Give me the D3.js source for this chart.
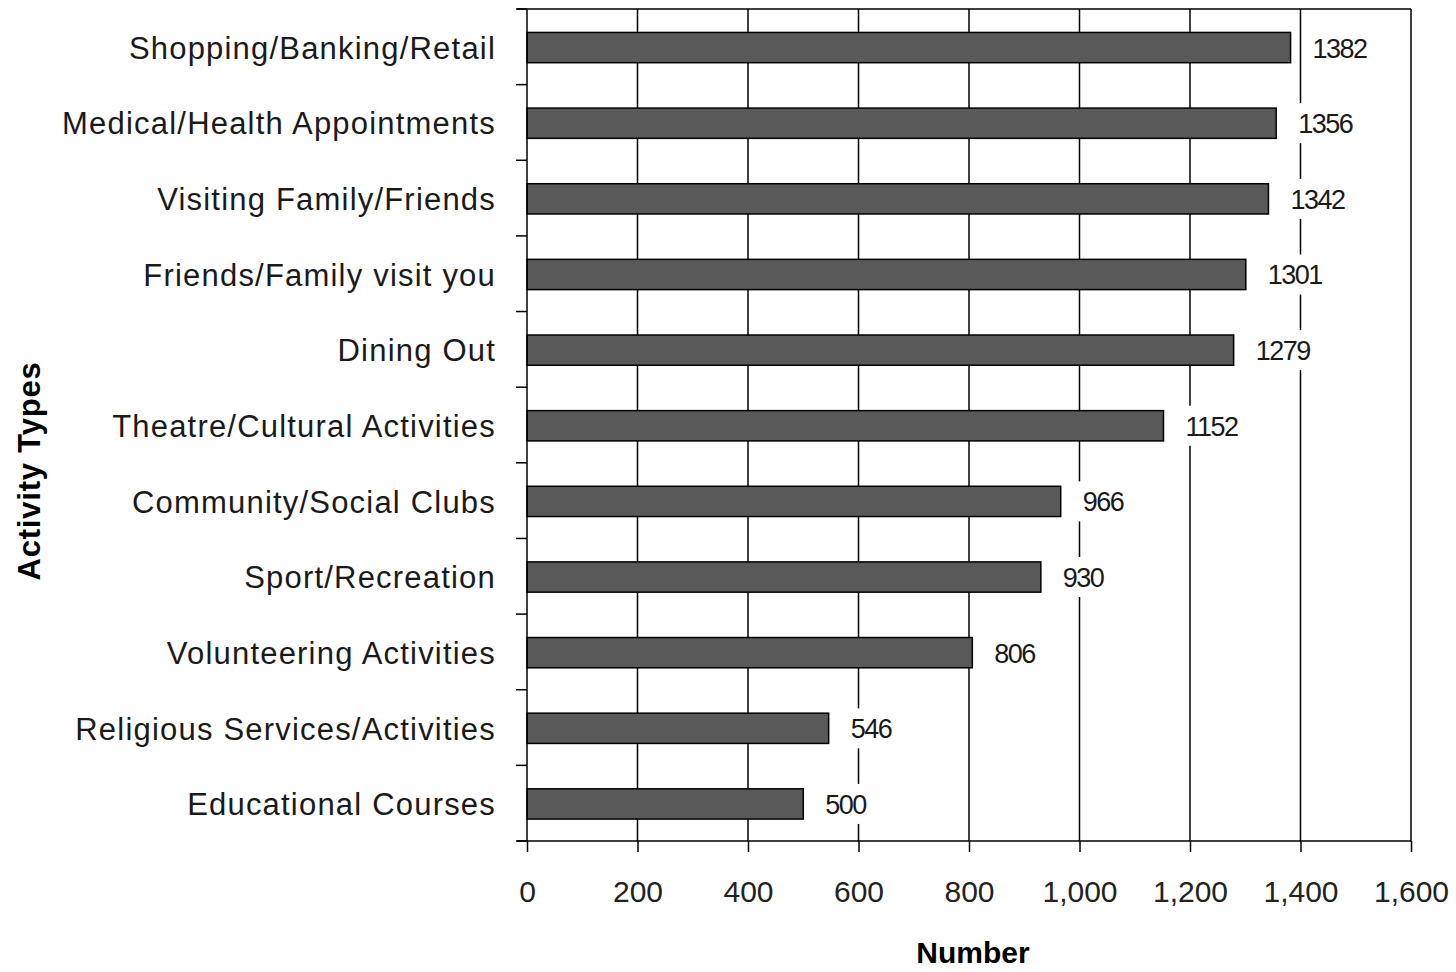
<!DOCTYPE html>
<html><head><meta charset="utf-8">
<script src="https://cdn.jsdelivr.net/npm/d3@7"></script>
<style>body{margin:0;background:#fff}svg{display:block}</style>
</head><body>
<svg id="c" width="1456" height="972"></svg>
<script>
const categories = ["Shopping/Banking/Retail","Medical/Health Appointments","Visiting Family/Friends","Friends/Family visit you","Dining Out","Theatre/Cultural Activities","Community/Social Clubs","Sport/Recreation","Volunteering Activities","Religious Services/Activities","Educational Courses"];
const values = [1382,1356,1342,1301,1279,1152,966,930,806,546,500];
const xTicks = [0,200,400,600,800,1000,1200,1400,1600];
const xTitle = "Number";
const yTitle = "Activity Types";

const svg = d3.select("#c");
const L = 527, R = 1411, T = 9, B = 841;
const x = d3.scaleLinear().domain([0,1600]).range([L,R]);
const y = d3.scaleBand().domain(categories).range([T,B]).padding(0);
const bw = y.bandwidth();
const FONT = "Liberation Sans, Arial, sans-serif";

// gridlines
svg.append("g").selectAll("line").data(xTicks.slice(1,-1)).join("line")
  .attr("x1",d=>x(d)).attr("x2",d=>x(d)).attr("y1",T).attr("y2",B)
  .attr("stroke","#000").attr("stroke-width",1.5);

// frame top/right
svg.append("line").attr("x1",L-10).attr("x2",R).attr("y1",T).attr("y2",T).attr("stroke","#000").attr("stroke-width",1.5);
svg.append("line").attr("x1",R).attr("x2",R).attr("y1",T).attr("y2",B).attr("stroke","#000").attr("stroke-width",1.5);

// bars
const data = categories.map((c,i)=>({c,v:values[i]}));
svg.append("g").selectAll("rect").data(data).join("rect")
  .attr("x",x(0)).attr("y",d=>y(d.c)+bw*0.31).attr("width",d=>x(d.v)-x(0)).attr("height",bw*0.4)
  .attr("fill","#595959").attr("stroke","#000").attr("stroke-width",1.5);

// value labels with white background
const lg = svg.append("g").selectAll("g").data(data).join("g")
  .attr("transform",d=>`translate(${x(d.v)+22},${y(d.c)+bw*0.51})`);
lg.append("rect").attr("x",-8).attr("y",-20).attr("width",70).attr("height",40).attr("fill","#fff");
lg.append("text").text(d=>d.v).attr("x",0).attr("y",10)
  .attr("font-family",FONT).attr("font-size",27).attr("letter-spacing",-1.5).attr("fill","#1a1a1a");

// x axis
const xAxis = d3.axisBottom(x).tickValues(xTicks).tickFormat(d3.format(",")).tickSize(11).tickPadding(27);
const gx = svg.append("g").attr("transform",`translate(0,${B})`).call(xAxis);
gx.select(".domain").attr("d",`M${L-10},0H${R}`).attr("stroke","#000").attr("stroke-width",1.5);
gx.selectAll(".tick line").attr("stroke","#000").attr("stroke-width",1.5);
gx.selectAll(".tick text").attr("font-family",FONT).attr("font-size",30).attr("fill","#222").attr("dy","0.75em");

// y axis: ticks at band boundaries
const gy = svg.append("g");
gy.append("line").attr("x1",L).attr("x2",L).attr("y1",T).attr("y2",B).attr("stroke","#000").attr("stroke-width",1.5);
const bounds = categories.map(c=>y(c)).concat([B]);
gy.selectAll("line.t").data(bounds).join("line").attr("class","t")
  .attr("x1",L-11).attr("x2",L).attr("y1",d=>d).attr("y2",d=>d).attr("stroke","#000").attr("stroke-width",1.5);
gy.selectAll("text").data(categories).join("text").text(d=>d)
  .attr("x",L-31).attr("y",d=>y(d)+bw/2+12).attr("text-anchor","end")
  .attr("font-family",FONT).attr("font-size",31).attr("letter-spacing",1.2).attr("fill","#1a1a1a");

// titles
svg.append("text").text(xTitle).attr("x",x(800)+4).attr("y",963).attr("text-anchor","middle")
  .attr("font-family",FONT).attr("font-size",30).attr("font-weight","bold").attr("fill","#000");
svg.append("text").text(yTitle).attr("transform",`translate(40,471) rotate(-90)`).attr("text-anchor","middle")
  .attr("font-family",FONT).attr("font-size",31).attr("font-weight","bold").attr("letter-spacing",0.8).attr("fill","#000");
</script>
</body></html>
